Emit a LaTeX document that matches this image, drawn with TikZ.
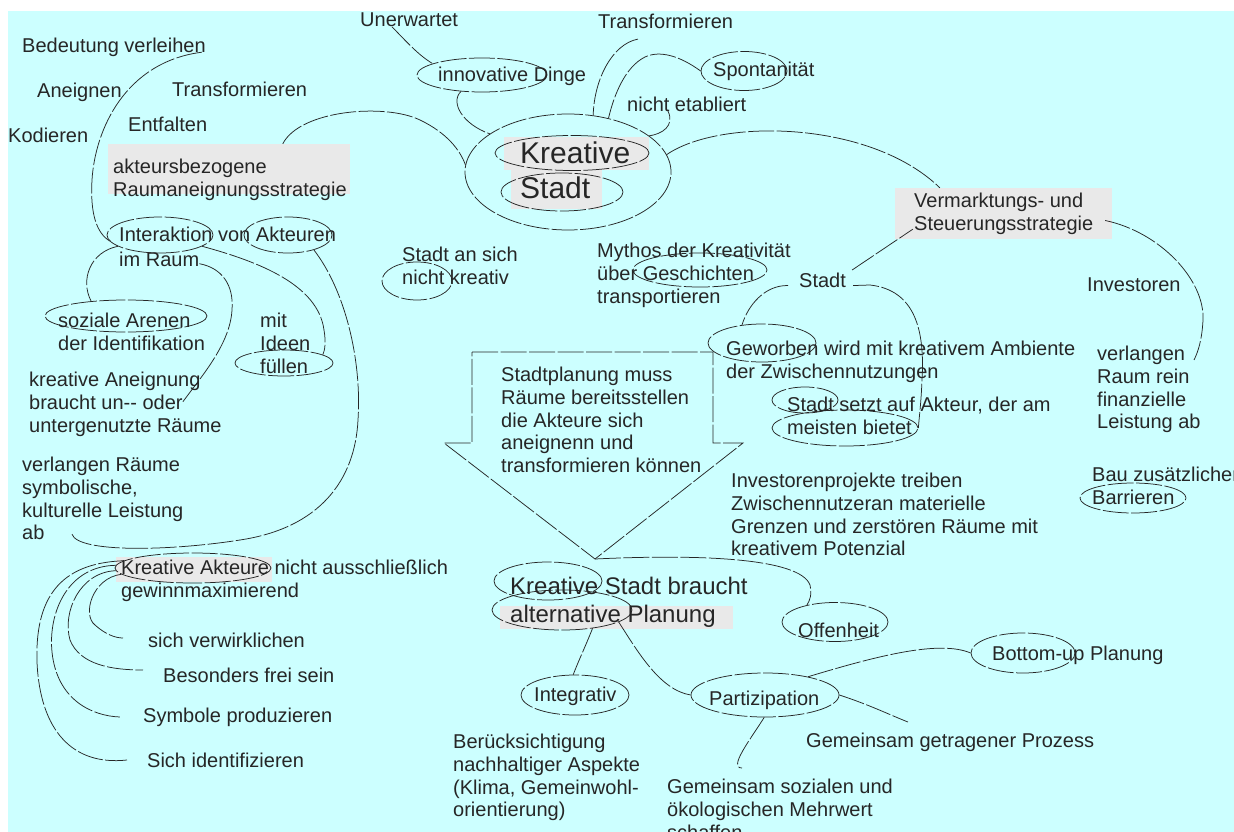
\documentclass[tikz,border=0pt]{standalone}
\usepackage{fontspec}
\setmainfont{Liberation Sans}
\usetikzlibrary{shapes,arrows}
\definecolor{sky}{RGB}{204,255,255}
\definecolor{ink}{RGB}{38,38,38}
\definecolor{panel}{RGB}{233,233,233}
\tikzstyle{txt} = [anchor=north west, inner sep=0, align=left, text=ink, font=\fontsize{20}{22.7}\selectfont]
\tikzstyle{bigtxt} = [txt, font=\fontsize{24}{28}\selectfont]
\tikzstyle{hugetxt} = [txt, font=\fontsize{30}{35}\selectfont]
\tikzstyle{panelbox} = [rectangle, fill=panel, inner sep=0]
\tikzstyle{ring} = [ellipse, draw=ink, line width=0.75pt, dash pattern=on 26pt off 2.5pt, inner sep=0]
\tikzstyle{link} = [draw=ink, line width=0.75pt, dash pattern=on 26pt off 2.5pt]

\begin{document}
\begin{tikzpicture}[x=1pt, y=-1pt]

\useasboundingbox (0,0) rectangle (1234,832);
\fill[sky] (8,11) rectangle (1234,832);

\node [panelbox, minimum width=242, minimum height=50] (akteursPanel) at (229,169) {};
\node [panelbox, minimum width=145, minimum height=33] (kreativePanel) at (576.5,153.5) {};
\node [panelbox, minimum width=91, minimum height=39] (stadtPanel) at (556.5,189.5) {};
\node [panelbox, minimum width=217, minimum height=51] (vermPanel) at (1003.5,213.5) {};
\node [panelbox, minimum width=156, minimum height=25] (kaktPanel) at (194,569.5) {};
\node [panelbox, minimum width=233, minimum height=23] (planPanel) at (616.5,617.5) {};

\node [txt] (unerwartet) at (360,12.5) {Unerwartet};
\node [txt] (transTop) at (598,14) {Transformieren};
\node [txt] (bedeutung) at (22,37.5) {Bedeutung verleihen};
\node [txt] (aneignen) at (37,83) {Aneignen};
\node [txt] (transLeft) at (172,82) {Transformieren};
\node [txt] (entfalten) at (128,117) {Entfalten};
\node [txt] (kodieren) at (8,128) {Kodieren};
\node [txt] (akteursStrat) at (113,159) {akteursbezogene\\Raumaneignungsstrategie};
\node [txt] (innovDinge) at (438,67) {innovative Dinge};
\node [txt] (spontan) at (713,62) {Spontanität};
\node [txt] (nichtEtab) at (627,97) {nicht etabliert};
\node [hugetxt] (kreativeStadt) at (520,142) {Kreative\\Stadt};
\node [txt] (vermStrat) at (914,193) {Vermarktungs- und\\Steuerungsstrategie};
\node [txt] (interaktion) at (119,227) {Interaktion von Akteuren};
\node [txt] (imRaum) at (119,252) {im Raum};
\node [txt] (stadtAnSich) at (402,247) {Stadt an sich\\nicht kreativ};
\node [txt] (mythos) at (597,243) {Mythos der Kreativität\\über Geschichten\\transportieren};
\node [txt] (stadtVerm) at (799,273) {Stadt};
\node [txt] (investoren) at (1087,278) {Investoren};
\node [txt] (sozialeArenen) at (58,313) {soziale Arenen\\der Identifikation};
\node [txt] (ideen) at (260,313) {mit\\Ideen\\füllen};
\node [txt] (kreativeAneig) at (29,372) {kreative Aneignung\\braucht un-{}- oder\\untergenutzte Räume};
\node [txt] (verlangenRaeume) at (22,457) {verlangen Räume\\symbolische,\\kulturelle Leistung\\ab};
\node [txt] (stadtplanung) at (501,367) {Stadtplanung muss\\Räume bereitsstellen\\die Akteure sich\\aneignenn und\\transformieren können};
\node [txt] (geworben) at (726,341) {Geworben wird mit kreativem Ambiente\\der Zwischennutzungen};
\node [txt] (stadtSetzt) at (787,397) {Stadt setzt auf Akteur, der am\\meisten bietet};
\node [txt] (investProj) at (731,473) {Investorenprojekte treiben\\Zwischennutzeran materielle\\Grenzen und zerstören Räume mit\\kreativem Potenzial};
\node [txt] (verlangenRaum) at (1097,346) {verlangen\\Raum rein\\finanzielle\\Leistung ab};
\node [txt] (bauBarr) at (1092,467) {Bau zusätzlicher\\Barrieren};
\node [txt] (kreativeAkteure) at (121,560) {Kreative Akteure nicht ausschließlich\\gewinnmaximierend};
\node [txt] (verwirklichen) at (148,633) {sich verwirklichen};
\node [txt] (freiSein) at (163,668) {Besonders frei sein};
\node [txt] (symbole) at (143,708) {Symbole produzieren};
\node [txt] (identifizieren) at (147,753) {Sich identifizieren};
\node [bigtxt] (altPlanung) at (510,577) {Kreative Stadt braucht\\alternative Planung};
\node [txt] (offenheit) at (798,623) {Offenheit};
\node [txt] (bottomUp) at (992,646) {Bottom-up Planung};
\node [txt] (integrativ) at (534,687) {Integrativ};
\node [txt] (partizipation) at (709,691) {Partizipation};
\node [txt] (beruecksicht) at (453,734) {Berücksichtigung\\nachhaltiger Aspekte\\(Klima, Gemeinwohl-\\orientierung)};
\node [txt] (mehrwert) at (667,779) {Gemeinsam sozialen und\\ökologischen Mehrwert\\schaffen};
\node [txt] (prozess) at (806,733) {Gemeinsam getragener Prozess};

\node [ring, minimum width=130, minimum height=34] (innovRing) at (482,75) {};
\node [ring, minimum width=86, minimum height=39] (spontanRing) at (744,71) {};
\node [ring, minimum width=206, minimum height=116] (centerRing) at (568,172) {};
\node [ring, minimum width=154, minimum height=35] (kreativeRing) at (572,153) {};
\node [ring, minimum width=122, minimum height=38] (stadtRing) at (562,192) {};
\node [ring, minimum width=106, minimum height=36] (interRing) at (160,235) {};
\node [ring, minimum width=88, minimum height=36] (akteurRing) at (288,235) {};
\node [ring, minimum width=70, minimum height=38] (nichtRing) at (417,281) {};
\node [ring, minimum width=134, minimum height=34] (mythosRing) at (700,270) {};
\node [ring, minimum width=162, minimum height=32] (sozialRing) at (126,316) {};
\node [ring, minimum width=98, minimum height=26] (fuellenRing) at (284,363) {};
\node [ring, minimum width=108, minimum height=38] (geworbenRing) at (762,343) {};
\node [ring, minimum width=66, minimum height=26] (stadtRingB) at (805,400) {};
\node [ring, minimum width=146, minimum height=36] (meistenRing) at (845,428) {};
\node [ring, minimum width=106, minimum height=30] (barrRing) at (1133,498) {};
\node [ring, minimum width=156, minimum height=30] (kaktRing) at (193,568) {};
\node [ring, minimum width=108, minimum height=38] (kreativeRingB) at (548,581) {};
\node [ring, minimum width=140, minimum height=40] (altRing) at (562,610) {};
\node [ring, minimum width=106, minimum height=39] (offenRing) at (835,622) {};
\node [ring, minimum width=104, minimum height=40] (bottomRing) at (1023,653) {};
\node [ring, minimum width=108, minimum height=40] (integRing) at (575,695) {};
\node [ring, minimum width=148, minimum height=44] (partizRing) at (765,695) {};

\coordinate (arrowTip) at (595,559);
\draw [link] (472,352) -- (713,352) -- (713,443) -- (743,443) -- (arrowTip) -- (444,443) -- (472,443) -- cycle;

\draw [link] ([shift={(32,0)}]unerwartet.south west) .. controls (405,40) and (418,55) .. (innovRing.167);
\draw [link] (innovRing.218) .. controls (450,102) and (462,124) .. (centerRing.154);
\draw [link] ([shift={(40,10)}]transTop.south west) .. controls (612,44) and (594,80) .. (centerRing.66);
\draw [link] (spontanRing.west) .. controls (680,56) and (660,50) .. (645,57) .. controls (625,67) and (614,95) .. (centerRing.53);
\draw [link] (centerRing.24) .. controls (662,134) and (675,126) .. ([shift={(41,-1)}]nichtEtab.south west);
\draw [link] (centerRing.10) .. controls (720,118) and (870,120) .. ([shift={(45,0)}]vermPanel.north west);
\draw [link] ([shift={(175,0)}]akteursPanel.north west) .. controls (300,110) and (385,103) .. (420,120) .. controls (447,133) and (460,150) .. (centerRing.176);

\draw [link] ([shift={(-4,0)}]bedeutung.base east) .. controls (125,62) and (95,130) .. (92,180) .. controls (90,215) and (97,233) .. (interRing.187);
\draw [link] (interRing.195) .. controls (90,252) and (80,280) .. (sozialRing.157);
\draw [link] ([shift={(0,-3)}]imRaum.base east) .. controls (222,268) and (234,285) .. (232,310) .. controls (230,345) and (200,378) .. ([shift={(153,31)}]kreativeAneig.north west);
\draw [link] (interRing.345) .. controls (260,262) and (318,285) .. (324,330) .. controls (326,342) and (325,350) .. (fuellenRing.12);
\draw [link] (akteurRing.330) .. controls (345,290) and (362,360) .. (358,420) .. controls (355,480) and (320,528) .. (240,540) .. controls (170,551) and (78,553) .. ([shift={(50,-6)}]verlangenRaeume.south west);

\draw [link] (kaktRing.185) .. controls (92,578) and (82,615) .. (95,625) .. controls (105,634) and (115,638) .. ([shift={(-25,5)}]verwirklichen.north west);
\draw [link] (kaktRing.182) .. controls (80,572) and (62,612) .. (70,640) .. controls (80,665) and (112,670) .. ([shift={(-20,2)}]freiSein.north west);
\draw [link] (kaktRing.178) .. controls (68,566) and (48,612) .. (52,652) .. controls (57,700) and (92,716) .. ([shift={(-23,9)}]symbole.north west);
\draw [link] (kaktRing.174) .. controls (58,563) and (35,600) .. (37,662) .. controls (40,730) and (72,766) .. ([shift={(-20,7)}]identifizieren.north west);

\draw [link] ([shift={(6,-3)}]stadtVerm.north east) -- ([shift={(18,-10)}]vermPanel.south west);
\draw [link] ([shift={(-11,5)}]stadtVerm.west) .. controls (765,285) and (748,305) .. (geworbenRing.138);
\draw [link] ([shift={(7,5)}]stadtVerm.east) -- (870,285) .. controls (915,290) and (925,330) .. (922,380) .. controls (921,405) and (919,418) .. (meistenRing.east);
\draw [link] ([shift={(-7,7)}]vermPanel.east) .. controls (1160,232) and (1205,280) .. (1203,320) .. controls (1202,340) and (1198,352) .. ([shift={(97,14)}]verlangenRaum.north west);

\draw [link] (arrowTip) .. controls (700,554) and (800,558) .. (810,585) .. controls (812,595) and (810,600) .. (offenRing.149);
\draw [link] (altRing.329) .. controls (586,645) and (578,662) .. (integRing.95);
\draw [link] (altRing.348) .. controls (638,652) and (660,690) .. (partizRing.west);
\draw [link] (partizRing.23) .. controls (880,655) and (940,640) .. (bottomRing.west);
\draw [link] (partizRing.east) .. controls (870,705) and (890,715) .. ([shift={(102,-11)}]prozess.north west);
\draw [link] (partizRing.268) .. controls (750,740) and (728,768) .. ([shift={(75,-11)}]mehrwert.north west);

\end{tikzpicture}
\end{document}
